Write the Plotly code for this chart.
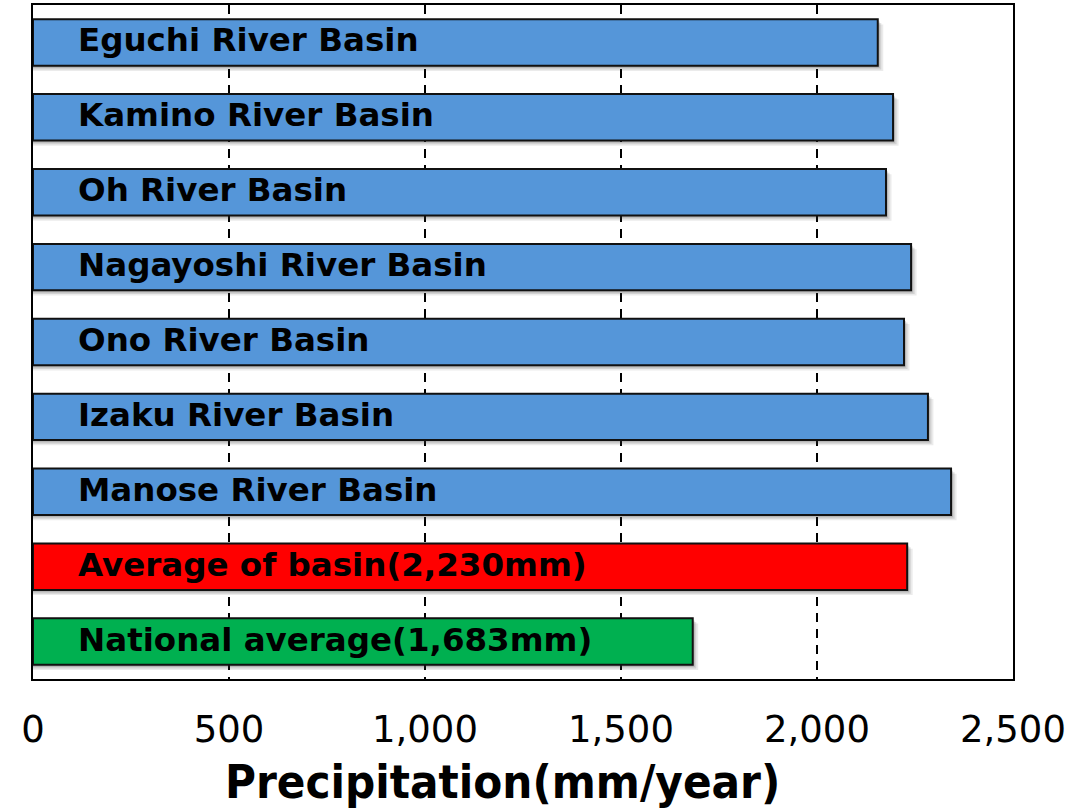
import plotly.graph_objects as go

# Annual precipitation by river basin (mm/year)
basins = [
    "Eguchi River Basin",
    "Kamino River Basin",
    "Oh River Basin",
    "Nagayoshi River Basin",
    "Ono River Basin",
    "Izaku River Basin",
    "Manose River Basin",
    "Average of basin(2,230mm)",
    "National average(1,683mm)",
]
precip = [2155, 2194, 2176, 2240, 2222, 2283, 2342, 2230, 1683]
bar_colors = ["#5596d9"] * 7 + ["#ff0000", "#00b050"]

x_ticks = [0, 500, 1000, 1500, 2000, 2500]
x_tick_text = ["0", "500", "1,000", "1,500", "2,000", "2,500"]
x_title = "Precipitation(mm/year)"

BAR_W = 0.62

fig = go.Figure()

# soft drop shadow under each bar (layered translucent grey)
for dx, off, alpha in [(14, 0.07, 0.10), (9, 0.05, 0.14), (5, 0.03, 0.18)]:
    fig.add_trace(go.Bar(
        y=basins,
        x=[v + dx for v in precip],
        orientation="h",
        width=BAR_W,
        offset=-BAR_W / 2 + off,
        marker=dict(color=f"rgba(60,60,60,{alpha})", line=dict(width=0)),
        hoverinfo="skip",
    ))

fig.add_trace(go.Bar(
    y=basins,
    x=precip,
    orientation="h",
    width=BAR_W,
    offset=-BAR_W / 2,
    marker=dict(color=bar_colors, line=dict(color="#111111", width=2)),
    hoverinfo="skip",
))

# Basin names written inside each bar, near its left end
for name in basins:
    fig.add_annotation(
        x=0, y=name, text=name, showarrow=False,
        xanchor="left", xshift=43, yshift=2,
        font=dict(family="DejaVu Sans", size=32.5, color="black", weight="bold"),
    )

# Axis title, placed slightly left of the plot centre
fig.add_annotation(
    xref="paper", yref="paper", x=0.4786, y=-0.152,
    xanchor="center", yanchor="middle", showarrow=False,
    text=f"<b>{x_title}</b>",
    font=dict(family="DejaVu Sans Condensed, DejaVu Sans", size=47, color="black"),
)

fig.update_layout(
    width=1069, height=811,
    margin=dict(l=33, r=56, t=5, b=132),
    plot_bgcolor="white", paper_bgcolor="white",
    showlegend=False,
    barmode="overlay",
    xaxis=dict(
        range=[0, 2500], automargin=False,
        tickvals=x_ticks, ticktext=x_tick_text,
        tickfont=dict(family="DejaVu Sans", size=37, color="black"),
        ticks="", ticklabelstandoff=17,
        showgrid=True, gridcolor="black", gridwidth=1.8, griddash="9px,7px",
        zeroline=False,
        showline=True, linecolor="black", linewidth=2, mirror=True,
    ),
    yaxis=dict(
        categoryorder="array", categoryarray=basins,
        autorange="reversed", automargin=False,
        showticklabels=False, ticks="", showgrid=False, zeroline=False,
        showline=True, linecolor="black", linewidth=2, mirror=True,
    ),
)

fig.write_html("out.html")
